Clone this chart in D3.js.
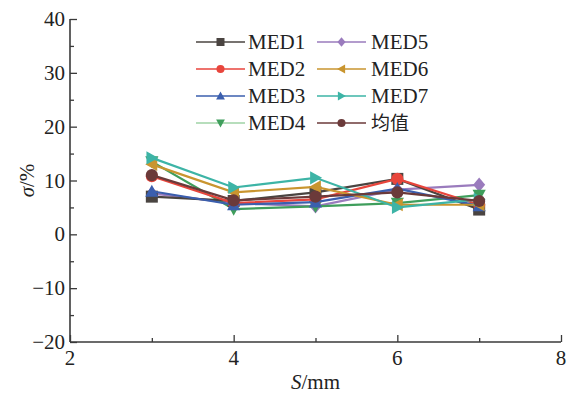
<!DOCTYPE html>
<html><head><meta charset="utf-8">
<script src="https://cdn.jsdelivr.net/npm/d3@7"></script>
<style>body{margin:0;background:#fff}svg{display:block}text{font-family:"Liberation Serif",serif}</style>
</head><body>
<svg id="c" width="585" height="394"></svg>
<script>
const xValues = [3, 4, 5, 6, 7];
const seriesNames = ["MED1","MED2","MED3","MED4","MED5","MED6","MED7","均值"];
const MED1 = [7.0, 6.2, 7.8, 10.3, 4.6];
const MED2 = [10.8, 5.8, 6.5, 10.3, 5.5];
const MED3 = [8.0, 5.5, 6.0, 8.5, 5.3];
const MED4 = [13.5, 4.7, 5.2, 5.8, 7.3];
const MED5 = [7.6, 5.8, 5.2, 8.3, 9.2];
const MED6 = [13.0, 7.8, 8.8, 5.5, 5.5];
const MED7 = [14.2, 8.7, 10.5, 5.0, 6.5];
const MEAN = [11.0, 6.3, 7.0, 7.8, 6.2];
const xTicks = [2, 4, 6, 8];
const yTicks = [-20, -10, 0, 10, 20, 30, 40];

const values = [MED1, MED2, MED3, MED4, MED5, MED6, MED7, MEAN];
const colors = ["#4a4441","#e8453c","#3b5fae","#3f9e5c","#9a7bbd","#c9952f","#3db4a6","#6b3a3a"];
const lineColors = ["#4a4441","#e8453c","#3b5fae","#9fd3a6","#9a7bbd","#c9952f","#3db4a6","#6b3a3a"];
const markers = ["square","circle","up","down","diamond","left","right","circle"];
const drawOrder = [4, 3, 0, 1, 2, 5, 6, 7];

const svg = d3.select("#c");
const x = d3.scaleLinear().domain([2, 8]).range([70, 561]);
const y = d3.scaleLinear().domain([-20, 40]).range([342, 19]);
const axisColor = "#3a3a3a";
const font = "Liberation Serif, serif";

const yAxis = svg.append("g").attr("transform", "translate(70,0)")
  .call(d3.axisRight(y).tickValues(d3.range(-20, 41, 5)).tickSize(7).tickFormat(""));
yAxis.selectAll(".tick line").attr("x2", d => d % 10 === 0 ? 7 : 4);
const xAxis = svg.append("g").attr("transform", "translate(0,342)")
  .call(d3.axisTop(x).tickValues(d3.range(2, 8.01, 1)).tickSize(7).tickFormat(""));
xAxis.selectAll(".tick line").attr("y2", d => d % 2 === 0 ? -7 : -4);
[yAxis, xAxis].forEach(g => {
  g.select(".domain").attr("stroke", axisColor).attr("stroke-width", 1.6);
  g.selectAll(".tick line").attr("stroke", axisColor).attr("stroke-width", 1.3);
});
yAxis.select(".domain").attr("d", `M0,${y(40)}V${y(-20)}`);
xAxis.select(".domain").attr("d", `M${x(2)},0H${x(8)}`);

svg.append("g").selectAll("text").data(yTicks).join("text")
  .attr("x", 65).attr("y", d => y(d) + 7)
  .attr("text-anchor", "end").attr("font-family", font).attr("font-size", 21)
  .attr("fill", "#222").text(d => d < 0 ? "\u2212" + Math.abs(d) : d);
svg.append("g").selectAll("text").data(xTicks).join("text")
  .attr("x", d => x(d)).attr("y", 365)
  .attr("text-anchor", "middle").attr("font-family", font).attr("font-size", 21)
  .attr("fill", "#222").text(d => d);

const yt = svg.append("text").attr("transform", `translate(34,${y(10)}) rotate(-90)`)
  .attr("text-anchor", "middle").attr("font-family", font).attr("font-size", 21).attr("fill", "#222");
yt.append("tspan").attr("font-style", "italic").text("σ");
yt.append("tspan").text("/%");
const xt = svg.append("text").attr("x", x(5)).attr("y", 389)
  .attr("text-anchor", "middle").attr("font-family", font).attr("font-size", 21).attr("fill", "#222");
xt.append("tspan").attr("font-style", "italic").text("S");
xt.append("tspan").text("/mm");

function markerPath(type, s) {
  const h = s / 2;
  switch (type) {
    case "square": return `M${-h},${-h}H${h}V${h}H${-h}Z`;
    case "circle": return d3.symbol(d3.symbolCircle, s * s * 0.8)();
    case "up": return `M0,${-h*1.1}L${h*1.1},${h*0.9}L${-h*1.1},${h*0.9}Z`;
    case "down": return `M0,${h*1.1}L${h*1.1},${-h*0.9}L${-h*1.1},${-h*0.9}Z`;
    case "left": return `M${-h*1.1},0L${h*0.9},${-h*1.1}L${h*0.9},${h*1.1}Z`;
    case "right": return `M${h*1.1},0L${-h*0.9},${-h*1.1}L${-h*0.9},${h*1.1}Z`;
    case "diamond": return `M0,${-h*1.2}L${h},0L0,${h*1.2}L${-h},0Z`;
  }
}

const line = d3.line().x(d => x(d[0])).y(d => y(d[1]));
const plot = svg.append("g");
drawOrder.forEach(i => {
  const vals = values[i];
  const pts = xValues.map((xv, j) => [xv, vals[j]]);
  const g = plot.append("g");
  g.append("path").attr("d", line(pts)).attr("fill", "none")
    .attr("stroke", colors[i]).attr("stroke-width", 2.2);
  g.selectAll("path.m").data(pts).join("path").attr("class", "m")
    .attr("transform", d => `translate(${x(d[0])},${y(d[1])})`)
    .attr("d", markerPath(markers[i], 12)).attr("fill", colors[i]);
});

const legend = svg.append("g");
seriesNames.forEach((name, i) => {
  const col = Math.floor(i / 4), row = i % 4;
  const lx = col === 0 ? 196 : 317;
  const ly = 42 + row * 27;
  legend.append("line").attr("x1", lx).attr("x2", lx + 49).attr("y1", ly).attr("y2", ly)
    .attr("stroke", lineColors[i]).attr("stroke-width", 1.6);
  legend.append("path").attr("transform", `translate(${lx + 24.5},${ly})`)
    .attr("d", markerPath(markers[i], 8)).attr("fill", colors[i]);
  const t = legend.append("text").attr("x", col === 0 ? lx + 52 : lx + 54).attr("y", ly + 7)
    .attr("font-size", i === 7 ? 19 : 21).attr("fill", "#222").text(name);
  t.attr("font-family", i === 7 ? "Noto Sans CJK SC" : font);
  if (i === 7) t.style("font-family", "Noto Sans CJK SC");
});
</script>
</body></html>
